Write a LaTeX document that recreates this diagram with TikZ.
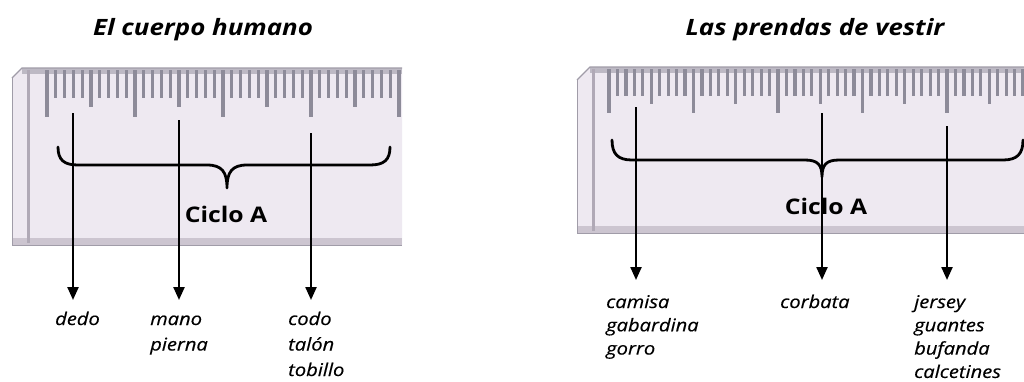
\documentclass[tikz,border=0pt]{standalone}
\usepackage{fontspec}
\usetikzlibrary{arrows.meta}
\newfontfamily\osans[FakeStretch=1.15]{Open Sans}
\newfontfamily\labfont[FakeStretch=1.15,FakeBold=0.4]{Open Sans}
\definecolor{rulerfill}{HTML}{EEE9F1}
\definecolor{tickgray}{HTML}{8D8B99}
\definecolor{edgegray}{HTML}{A09CA8}
\definecolor{bottomgray}{HTML}{CCC5D0}
\definecolor{stripgray}{HTML}{B0A9B6}
\definecolor{bandgray}{HTML}{BDB9C4}
\tikzset{
  tick/.style={draw=tickgray, line width=3.2pt},
  arr/.style={line width=2.3pt, -{Triangle[width=11pt,length=13pt]}},
  bracepath/.style={line width=2.8pt, line cap=round, line join=round},
  title/.style={font=\osans\bfseries\itshape\fontsize{22.5}{26}\selectfont, inner sep=0pt, anchor=base},
  ciclo/.style={font=\osans\bfseries\fontsize{21.5}{25}\selectfont, inner sep=0pt, anchor=base},
  lab/.style={font=\labfont\itshape\fontsize{17.5}{25.5}\selectfont, inner sep=0pt, anchor=base west, align=left},
  labr/.style={font=\labfont\itshape\fontsize{17.5}{23.3}\selectfont, inner sep=0pt, anchor=base west, align=left},
}
\begin{document}
\begin{tikzpicture}[x=1pt, y=-1pt]
\useasboundingbox[fill=white] (0,0) rectangle (1024,381);

% ---------- left ruler ----------
\fill[rulerfill] (12,78) -- (22,68) -- (402,68) -- (402,245) -- (12,245) -- cycle;
\fill[bandgray] (22,68) rectangle (402,74);
\fill[bottomgray] (12,238) rectangle (402,245);
\draw[edgegray, line width=1.2pt] (12,78) -- (22,68) -- (402,68);
\draw[edgegray, line width=1pt] (12,78) -- (12,245) -- (402,245);
\draw[stripgray, line width=3pt] (28,70) -- (28,243);
\foreach \i in {0,...,40}{
  \pgfmathsetmacro\xx{47+8.8*\i}
  \pgfmathsetmacro\len{ifthenelse(mod(\i,10)==0,117,ifthenelse(mod(\i,5)==0,107,98))}
  \draw[tick] (\xx,70) -- (\xx,\len);
}

% ---------- right ruler ----------
\fill[rulerfill] (577,80) -- (590,67) -- (1024,67) -- (1024,233) -- (577,233) -- cycle;
\fill[bandgray] (590,67) rectangle (1024,73);
\fill[bottomgray] (577,226) rectangle (1024,233);
\draw[edgegray, line width=1.2pt] (577,80) -- (590,67) -- (1024,67);
\draw[edgegray, line width=1pt] (577,80) -- (577,233) -- (1024,233);
\draw[stripgray, line width=3pt] (593,69) -- (593,231);
\foreach \i in {0,...,49}{
  \pgfmathsetmacro\xx{609+8.45*\i}
  \pgfmathsetmacro\len{ifthenelse(mod(\i,10)==0,113,ifthenelse(mod(\i,5)==0,104,96))}
  \draw[tick] (\xx,69) -- (\xx,\len);
}

% ---------- titles ----------
\node[title] (t1) at (203,35) {El cuerpo humano};
\node[title] (t2) at (815,35) {Las prendas de vestir};

% ---------- braces ----------
\draw[bracepath] (58,147) .. controls (58,160) and (64,165) .. (78,165) -- (207,165)
  .. controls (222,165) and (227,172) .. (227,188)
  .. controls (227,172) and (232,165) .. (247,165) -- (370,165)
  .. controls (384,165) and (390,160) .. (390,147);
\draw[bracepath] (612,140) .. controls (612,154) and (618,160) .. (632,160) -- (805,160)
  .. controls (818,160) and (822,165) .. (822,177)
  .. controls (822,165) and (826,160) .. (839,160) -- (1003,160)
  .. controls (1017,160) and (1023,154) .. (1023,140);

% ---------- Ciclo A ----------
\node[ciclo] (c1) at (226,222) {Ciclo A};
\node[ciclo] (c2) at (826,214) {Ciclo A};

% ---------- labels (base anchor = last line) ----------
\node[lab] (l1) at (55,325) {dedo};
\node[lab] (l2) at (150,350.5) {mano\\pierna};
\node[lab] (l3) at (288,376) {codo\\tal\'on\\tobillo};
\node[labr] (r1) at (606,354.6) {camisa\\gabardina\\gorro};
\node[labr] (r2) at (780,308) {corbata};
\node[labr] (r3) at (914,377.9) {jersey\\guantes\\bufanda\\calcetines};

% ---------- arrows ----------
\coordinate (a1s) at (73,113);  \coordinate (a1e) at (73,300);
\coordinate (a2s) at (179,120); \coordinate (a2e) at (179,300);
\coordinate (a3s) at (311,133); \coordinate (a3e) at (311,300);
\coordinate (b1s) at (636,107); \coordinate (b1e) at (636,280);
\coordinate (b2s) at (822,113); \coordinate (b2e) at (822,280);
\coordinate (b3s) at (947,126); \coordinate (b3e) at (947,280);
\draw[arr] (a1s) -- (a1e);
\draw[arr] (a2s) -- (a2e);
\draw[arr] (a3s) -- (a3e);
\draw[arr] (b1s) -- (b1e);
\draw[arr] (b2s) -- (b2e);
\draw[arr] (b3s) -- (b3e);
\end{tikzpicture}
\end{document}
